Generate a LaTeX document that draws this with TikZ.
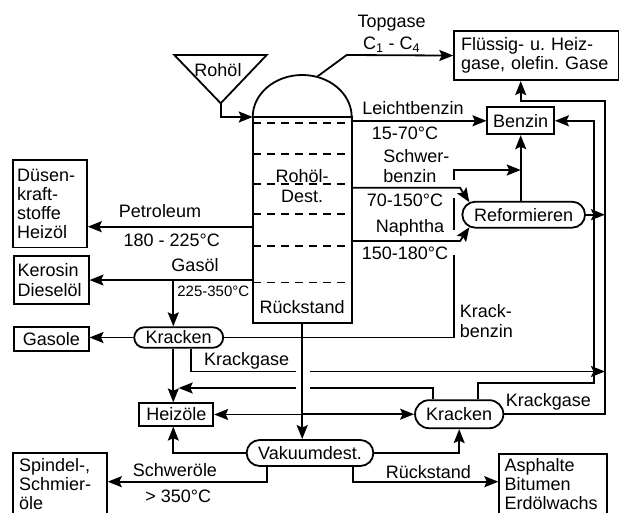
\documentclass[tikz,border=0pt]{standalone}
\usepackage{fontspec}
\setmainfont{Liberation Sans}
\usetikzlibrary{arrows.meta, positioning, shapes.misc}

\newcommand{\ovtext}[1]{\makebox[0pt]{#1}}

\begin{document}
\begin{tikzpicture}[
  x=1pt, y=-1pt,
  line width=1.8pt,
  font=\fontsize{18}{19.3}\selectfont,
  every node/.style={align=center, inner sep=0pt},
  arr/.style={-{Stealth[length=14pt, width=11pt, inset=2.5pt]}},
  box/.style={draw, inner xsep=4pt, inner ysep=0pt, align=left},
  proc/.style={rounded rectangle, draw, inner sep=0pt},
  tray/.style={line width=1.6pt, dash pattern=on 8pt off 6pt},
  small/.style={font=\fontsize{15}{16}\selectfont}
]

\useasboundingbox (0,0) rectangle (619,513);

%% Parameters
\def\xh{173.3}  % Kracken -> Heizoele riser
\def\xkb{454.3} % Krackbenzin riser
\def\xbz{594.3} % Benzin return line
\def\xgs{605}   % gas collector

%% ---- Column ----
\node[draw, outer sep=0pt, minimum width=99pt, minimum height=206pt] (col) at (302.2,220) {};
\draw (col.north west) arc[start angle=180, end angle=0, x radius=49.5pt, y radius=42pt];
\coordinate (topout) at (316.7,77);
\foreach \y in {123.3, 154.3, 184.3, 214.3, 246, 282.7}{
  \draw[tray] (col.west |- 0,\y) -- (col.east |- 0,\y);
}
\node (coltxt) at (302.2,186) {Rohöl-\\Dest.};
\node (rueck) at (302.2,306.7) {Rückstand};

%% ---- Feed ----
\draw (174.3,55) -- (266.7,55) -- (220.7,103.3) -- cycle;
\coordinate (rohoeltip) at (220.7,103.3);
\node (rohoel) at (218,70) {Rohöl};
\draw[arr] (rohoeltip) |- (col.north west);

%% ---- Product boxes ----
\node[box, text width=65.7pt, minimum height=87.4pt, anchor=north west] (duesen) at (12.3,159.3) {Düsen-\\kraft-\\stoffe\\Heizöl};
\node[box, inner xsep=3.5pt, text width=67.4pt, minimum height=48.3pt, anchor=north west] (kerosin) at (13.3,255) {Kerosin\\Dieselöl};
\node[box, align=center, minimum width=74.4pt, minimum height=24pt, anchor=north west] (gasole) at (13.3,326) {Gasole};
\node[box, align=center, minimum width=74pt, minimum height=22.4pt] (heizoele) at (176.3,414.5) {Heizöle};
\node[box, align=center, minimum width=66.7pt, minimum height=27pt] (benzin) at (520.7,120.8) {Benzin};
\node[box, inner xsep=7pt, text width=151pt, minimum height=49.3pt, anchor=north west] (fluessig) at (453.3,30) {Flüssig- u.\ Heiz-\\gase, olefin.\ Gase};
\node[box, inner xsep=6pt, text width=81.7pt, minimum height=63pt, anchor=north west] (spindel) at (12.3,451.7) {Spindel-,\\Schmier-\\öle};
\node[box, inner xsep=5.5pt, text width=96.7pt, minimum height=60pt, anchor=north west] (asphalt) at (498.3,453.3) {Asphalte\\Bitumen\\Erdölwachs};

%% ---- Processes ----
\node[proc, minimum width=122.7pt, minimum height=26pt] (refo) at (523.7,214.7) {\ovtext{Reformieren}};
\node[proc, minimum width=89pt, minimum height=20.5pt] (kracka) at (178.7,337.5) {\ovtext{Kracken}};
\node[proc, minimum width=88.3pt, minimum height=28pt] (krackb) at (459.2,414.2) {\ovtext{Kracken}};
\node[proc, minimum width=126.7pt, minimum height=26pt] (vakuum) at (310,453) {\ovtext{Vakuumdest.}};

%% ---- Topgase ----
\draw[arr] (topout) -- (346.7,55) -- (fluessig.west);
\node (topgase) at (391.7,23.3) {Topgase};
\node (c1c4) at (391.7,45) {C\textsubscript{1} - C\textsubscript{4}};

%% ---- Benzin side ----
\draw[arr] (col.east |- benzin.west) -- (benzin.west);
\node (lbz) at (413,108.3) {Leichtbenzin};
\node (t1) at (405,133.3) {15-70°C};

\draw[arr] (col.east |- 0,187.7) -- (460,187.7) -- (refo.167);
\node[anchor=west, align=left] (schwer) at (382.5,166) {Schwer-\\benzin};
\node (t2) at (405,200) {70-150°C};

\draw[arr] (col.east |- 0,241) -- (460,241) -- (refo.193);
\node (naph) at (410,228.3) {Naphtha};
\node (t3) at (405,253.3) {150-180°C};

\draw[arr] (benzin.south |- refo.north) -- (benzin.south);
\draw[arr] (refo.east) -- (refo.east -| \xgs,0);

%% Krackbenzin riser, broken at crossings
\draw (kracka.east) -| (\xkb,255);
\draw (\xkb,230) -- (\xkb,198);
\draw[arr] (\xkb,180) -- (\xkb,170) -- (benzin.south |- 0,170);
\node[anchor=west, align=left] (krbz) at (459,321) {Krack-\\benzin};

%% ---- Gas collector and Benzin return ----
\draw[arr] (krackb.east) -| (\xgs,100.7) -| (benzin.north |- fluessig.south);
\node (kgb) at (548.3,401.7) {Krackgase};
\draw[arr] ([xshift=19pt]krackb.north) |- (\xbz,382.7) |- (benzin.east);

%% ---- Left side ----
\draw[arr] (col.west |- 0,226.7) -- (duesen.east |- 0,226.7);
\node (petrol) at (160,210.7) {Petroleum};
\node (t4) at (171.7,240.7) {180 - 225°C};

\draw[arr] (col.west |- kerosin.east) -- (kerosin.east);
\draw[arr] (kerosin.east -| \xh,0) -- (kracka.north -| \xh,0);
\node (gasoel) at (195,265) {Gasöl};
\node[small] (t5) at (213.3,291.7) {225-350°C};

\draw[arr] (kracka.west) -- (kracka.west -| gasole.east);
\draw[arr] (kracka.south -| \xh,0) -- (heizoele.north -| \xh,0);

%% Krackgase lines, broken at the residue line
\draw ([xshift=12.3pt]kracka.south) |- (296,371.5);
\draw[arr] (310,371.5) -- (\xgs,371.5);
\node (kga) at (246.7,361) {Krackgase};
\draw ([xshift=-26pt]krackb.north) |- (310,388);
\draw[arr] (296,388) -- (kracka.south |- 0,388);

%% ---- Rückstand ----
\draw[arr] (col.south) -- (col.south |- vakuum.north);
\draw[arr] (col.south |- heizoele.east) -- (heizoele.east);
\draw[arr] (col.south |- krackb.west) -- (krackb.west);

%% ---- Vakuumdest. outputs ----
\draw[arr] (vakuum.west) -| (heizoele.south -| \xh,0);
\draw[arr] (vakuum.east) -| (krackb.south);
\draw[arr] ([xshift=-43.3pt]vakuum.south) |- (spindel.east |- 0,481.7);
\node (schweroel) at (175,470) {Schweröle};
\node (t6) at (178.3,496) {> 350°C};
\draw[arr] ([xshift=43.3pt]vakuum.south) |- (asphalt.west |- 0,481.7);
\node (rueck2) at (428.3,471.7) {Rückstand};

\end{tikzpicture}
\end{document}
